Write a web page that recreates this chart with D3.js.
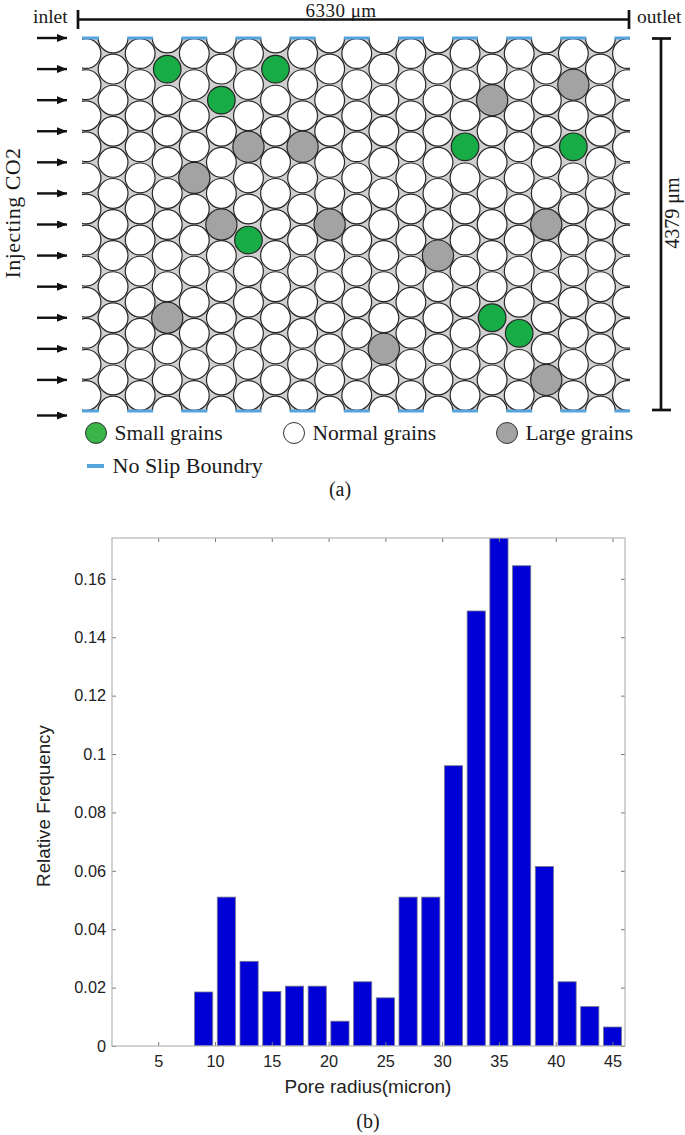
<!DOCTYPE html>
<html>
<head>
<meta charset="utf-8">
<script src="https://cdn.jsdelivr.net/npm/d3@7"></script>
<style>
  html, body { margin: 0; padding: 0; background: #fff; }
  svg { display: block; }
  .serif { font-family: "Liberation Serif", serif; fill: #1a1a1a; }
  .sans { font-family: "Liberation Sans", sans-serif; fill: #222; }
</style>
</head>
<body>
<svg id="chart" width="685" height="1135"></svg>
<script>
// grain lattice: [column, row] of the odd ones out
const smallGrains = [[3,1],[7,1],[5,2],[6,6],[14,3],[18,3],[15,9],[16,9]];
const largeGrains = [[15,2],[18,1],[6,3],[8,3],[4,4],[5,6],[9,6],[17,6],[13,7],[3,9],[11,10],[17,11]];
const columnCount = 21;
const oddRowCount = 13;
const evenRowCount = 12;

// pore radius histogram
const binCenters = [9,11,13,15,17,19,21,23,25,27,29,31,33,35,37,39,41,43,45];
const relFreq = [0.0185,0.051,0.029,0.0187,0.0205,0.0205,0.0085,0.022,0.0165,0.051,0.051,0.096,0.149,0.178,0.1645,0.0615,0.022,0.0135,0.0065];
const xTickValues = [5,10,15,20,25,30,35,40,45];
const yTickValues = [0,0.02,0.04,0.06,0.08,0.1,0.12,0.14,0.16];

const svg = d3.select("#chart");

// ---- panel (a) ----
const colX = d3.scaleLinear().domain([0, 20]).range([86, 627.5]);
const rowY = d3.scaleLinear().domain([0, 12]).range([38, 411]);

const box = { left: 82, right: 630, top: 38, bottom: 411 };

svg.append("clipPath").attr("id", "boxClip").append("rect")
    .attr("x", box.left).attr("y", box.top)
    .attr("width", box.right - box.left).attr("height", box.bottom - box.top);

const key = (c, r) => c + "_" + r;
const smallSet = new Set(smallGrains.map(d => key(d[0], d[1])));
const largeSet = new Set(largeGrains.map(d => key(d[0], d[1])));

let grains = [];
d3.range(columnCount).forEach(c => {
    const even = c % 2 === 0;
    d3.range(even ? evenRowCount : oddRowCount).forEach(r => {
        const kind = smallSet.has(key(c, r)) ? "small" : largeSet.has(key(c, r)) ? "large" : "normal";
        grains.push({ c, r, kind, x: colX(c), y: rowY(even ? r + 0.5 : r) });
    });
});

const grainFill = { small: "#17ac45", normal: "#fff", large: "#a3a3a3" };
const grainR = { small: 13.8, normal: 14.9, large: 15.6 };

const pack = svg.append("g").attr("clip-path", "url(#boxClip)");
pack.append("rect")
    .attr("x", box.left).attr("y", box.top)
    .attr("width", box.right - box.left).attr("height", box.bottom - box.top)
    .attr("fill", "#d0d0d0");

// big ones last so they sit on top of their neighbours
pack.selectAll("circle")
    .data(grains.slice().sort((a, b) => grainR[a.kind] - grainR[b.kind]))
    .enter().append("circle")
    .attr("cx", d => d.x).attr("cy", d => d.y)
    .attr("r", d => grainR[d.kind])
    .attr("fill", d => grainFill[d.kind])
    .attr("stroke", "#262626")
    .attr("stroke-width", 1.2);

// blue walls over the even columns
const evenCols = d3.range(0, columnCount, 2);
const wall = (x) => [Math.max(x - 13, box.left), Math.min(x + 13, box.right)];
[box.top, box.bottom].forEach(y => {
    svg.append("g").selectAll("line")
        .data(evenCols)
        .enter().append("line")
        .attr("x1", d => wall(colX(d))[0]).attr("x2", d => wall(colX(d))[1])
        .attr("y1", y).attr("y2", y)
        .attr("stroke", "#55a5dc").attr("stroke-width", 3);
});

// inlet arrows
svg.append("defs").append("marker")
    .attr("id", "head").attr("viewBox", "0 0 10 8")
    .attr("refX", 10).attr("refY", 4)
    .attr("markerWidth", 10).attr("markerHeight", 8)
    .attr("markerUnits", "userSpaceOnUse")
    .attr("orient", "auto")
    .append("path").attr("d", "M0,0L10,4L0,8Z").attr("fill", "#111");

svg.append("g").selectAll("line")
    .data(d3.range(oddRowCount))
    .enter().append("line")
    .attr("x1", 37).attr("x2", 67)
    .attr("y1", d => rowY(d) + (d === 12 ? 4.5 : 0))
    .attr("y2", d => rowY(d) + (d === 12 ? 4.5 : 0))
    .attr("stroke", "#111").attr("stroke-width", 2.4)
    .attr("marker-end", "url(#head)");

// dimension lines
const dims = svg.append("g").attr("stroke", "#111").attr("stroke-width", 2.7);
dims.append("line").attr("x1", 78).attr("x2", 629).attr("y1", 19.5).attr("y2", 19.5);
dims.append("line").attr("x1", 78).attr("x2", 78).attr("y1", 10).attr("y2", 29);
dims.append("line").attr("x1", 629).attr("x2", 629).attr("y1", 10).attr("y2", 29);
dims.append("line").attr("x1", 661).attr("x2", 661).attr("y1", 38).attr("y2", 411);
dims.append("line").attr("x1", 652).attr("x2", 671).attr("y1", 38.5).attr("y2", 38.5);
dims.append("line").attr("x1", 652).attr("x2", 671).attr("y1", 410).attr("y2", 410);

const label = (x, y, t, size, anchor, rotate) => {
    const el = svg.append("text").attr("class", "serif")
        .attr("font-size", size).attr("text-anchor", anchor || "start").text(t);
    if (rotate) el.attr("transform", `translate(${x},${y}) rotate(${rotate})`);
    else el.attr("x", x).attr("y", y);
    return el;
};

label(33, 23, "inlet", 19.5);
label(637, 23, "outlet", 19.5);
label(341, 17, "6330 μm", 19, "middle").attr("letter-spacing", 0.5);
label(679, 213, "4379 μm", 20, "middle", -90);
label(19.8, 213, "Injecting CO2", 22, "middle", -90).attr("letter-spacing", 0.45);

// legend
const legendItems = [
    { x: 96, text: "Small grains", kind: "small" },
    { x: 294, text: "Normal grains", kind: "normal" },
    { x: 507, text: "Large grains", kind: "large" }
];
svg.append("g").selectAll("circle")
    .data(legendItems)
    .enter().append("circle")
    .attr("cx", d => d.x).attr("cy", 433).attr("r", 10.5)
    .attr("fill", d => d.kind === "small" ? "#39b54a" : grainFill[d.kind])
    .attr("stroke", "#333").attr("stroke-width", 1);
legendItems.forEach(d => label(d.x + 18.5, 440, d.text, 21.5));
svg.append("line").attr("x1", 87).attr("x2", 104).attr("y1", 466).attr("y2", 466)
    .attr("stroke", "#55a5dc").attr("stroke-width", 4);
label(112.5, 472.5, "No Slip Boundry", 22);
label(340, 496, "(a)", 20, "middle");

// ---- panel (b) ----
const plot = { left: 112, right: 625, top: 538, bottom: 1046 };
const x = d3.scaleLinear().domain([0.93, 46.1]).range([plot.left, plot.right]);
const y = d3.scaleLinear().domain([0, 0.174]).range([plot.bottom, plot.top]);
const barW = (x(2) - x(0)) * 0.8;

svg.append("clipPath").attr("id", "plotClip").append("rect")
    .attr("x", plot.left).attr("y", plot.top)
    .attr("width", plot.right - plot.left).attr("height", plot.bottom - plot.top);

svg.append("g").attr("clip-path", "url(#plotClip)")
    .selectAll("rect")
    .data(binCenters)
    .enter().append("rect")
    .attr("x", d => x(d) - barW / 2)
    .attr("y", (d, i) => y(relFreq[i]))
    .attr("width", barW)
    .attr("height", (d, i) => y(0) - y(relFreq[i]))
    .attr("fill", "#0000d6")
    .attr("stroke", "#77778f")
    .attr("stroke-width", 0.8);

const styleAxis = g => {
    g.select(".domain").remove();
    g.selectAll("line").attr("stroke", "#777");
    g.selectAll("text").attr("class", "sans").attr("font-size", 16.3)
        .attr("font-family", "Liberation Sans").attr("fill", "#222");
};

svg.append("g").attr("transform", `translate(0,${plot.bottom})`)
    .call(d3.axisBottom(x).tickValues(xTickValues).tickSize(-4).tickPadding(9).tickFormat(d3.format("d")))
    .call(styleAxis);
svg.append("g").attr("transform", `translate(${plot.left},0)`)
    .call(d3.axisLeft(y).tickValues(yTickValues).tickSize(-4).tickPadding(6).tickFormat(d => d === 0 ? "0" : String(d)))
    .call(styleAxis);
svg.append("g").attr("transform", `translate(0,${plot.top})`)
    .call(d3.axisTop(x).tickValues(xTickValues).tickSize(-4).tickFormat(""))
    .call(styleAxis);
svg.append("g").attr("transform", `translate(${plot.right},0)`)
    .call(d3.axisRight(y).tickValues(yTickValues).tickSize(-4).tickFormat(""))
    .call(styleAxis);

svg.append("rect")
    .attr("x", plot.left).attr("y", plot.top)
    .attr("width", plot.right - plot.left).attr("height", plot.bottom - plot.top)
    .attr("fill", "none").attr("stroke", "#b5b5b5").attr("stroke-width", 1.2);

svg.append("text").attr("class", "sans").attr("font-size", 19).attr("text-anchor", "middle")
    .attr("x", 368).attr("y", 1093).text("Pore radius(micron)");
svg.append("text").attr("class", "sans").attr("font-size", 18.8).attr("text-anchor", "middle")
    .attr("transform", "translate(50,806) rotate(-90)").text("Relative Frequency");
label(368, 1128, "(b)", 20, "middle");
</script>
</body>
</html>
